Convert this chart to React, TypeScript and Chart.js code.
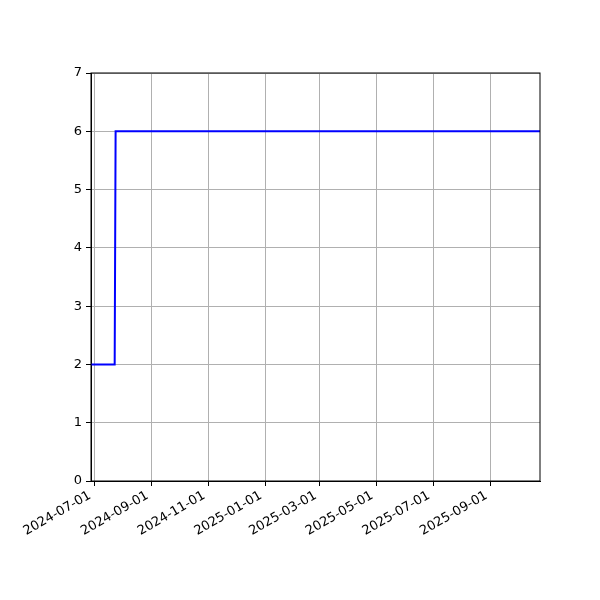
import { useEffect, useRef } from 'react'
import { Chart, registerables } from 'chart.js'

Chart.register(...registerables)

const DAY = 86400000
const dayOf = (iso: string) => Date.parse(iso + 'T00:00:00Z') / DAY

// step series: date -> value
const dates = ['2024-06-27', '2024-07-23', '2024-07-24', '2025-10-25']
const values = [2, 2, 6, 6]

const tickDates = [
  '2024-07-01',
  '2024-09-01',
  '2024-11-01',
  '2025-01-01',
  '2025-03-01',
  '2025-05-01',
  '2025-07-01',
  '2025-09-01',
]
const yTicks = [0, 1, 2, 3, 4, 5, 6, 7]

const X_MIN = dayOf('2024-06-27') + 0.5
const X_MAX = dayOf('2025-10-24')
const FONT = '13px "DejaVu Sans"'

const frame = {
  id: 'frame',
  afterDraw(chart: Chart) {
    const { ctx, chartArea: a } = chart
    ctx.save()
    ctx.strokeStyle = '#000'
    ctx.lineWidth = 1
    ctx.strokeRect(a.left, a.top, a.right - a.left, a.bottom - a.top)

    // rotated date labels, right/top anchored like matplotlib's autofmt_xdate
    const xs = chart.scales.x
    const ang = (30 * Math.PI) / 180
    const h = 13
    ctx.font = FONT
    ctx.fillStyle = '#000'
    ctx.textBaseline = 'bottom'
    ctx.textAlign = 'left'
    tickDates.forEach((d) => {
      const tx = xs.getPixelForValue(dayOf(d))
      const w = ctx.measureText(d).width
      const top = a.bottom + 8
      const bx = tx - w * Math.cos(ang) - 1
      const by = top + w * Math.sin(ang) + h * Math.cos(ang)
      ctx.save()
      ctx.translate(bx, by)
      ctx.rotate(-ang)
      ctx.fillText(d, 0, 0)
      ctx.restore()
    })
    ctx.restore()
  },
}

export default function App() {
  const canvasRef = useRef<HTMLCanvasElement | null>(null)

  useEffect(() => {
    if (!canvasRef.current) return undefined
    const font = { family: 'DejaVu Sans', size: 13 }
    const chart = new Chart(canvasRef.current, {
      type: 'line',
      data: {
        datasets: [
          {
            data: dates.map((d, i) => ({ x: dayOf(d), y: values[i] })),
            borderColor: '#0000ff',
            borderWidth: 2,
            pointRadius: 0,
            tension: 0,
          },
        ],
      },
      options: {
        animation: false,
        responsive: false,
        devicePixelRatio: 1,
        layout: { padding: { left: 0, top: 73, right: 60, bottom: 0 } },
        plugins: { legend: { display: false }, tooltip: { enabled: false } },
        scales: {
          x: {
            type: 'linear',
            min: X_MIN,
            max: X_MAX,
            afterBuildTicks: (scale) => {
              scale.ticks = tickDates.map((d) => ({ value: dayOf(d) }))
            },
            afterFit: (scale) => {
              scale.height = 119
            },
            ticks: { display: false },
            grid: { color: '#b0b0b0', lineWidth: 1, tickColor: '#000', tickLength: 5 },
            border: { color: '#000', width: 1 },
          },
          y: {
            type: 'linear',
            min: 0,
            max: 7,
            afterBuildTicks: (scale) => {
              scale.ticks = yTicks.map((v) => ({ value: v }))
            },
            afterFit: (scale) => {
              scale.width = 91
            },
            ticks: { color: '#000', font, padding: 4 },
            grid: { color: '#b0b0b0', lineWidth: 1, tickColor: '#000', tickLength: 5 },
            border: { color: '#000', width: 1 },
          },
        },
      },
      plugins: [frame],
    })
    return () => chart.destroy()
  }, [])

  return (
    <div style={{ position: 'absolute', left: 0, top: 0, width: 600, height: 600, background: '#fff' }}>
      <canvas ref={canvasRef} width={600} height={600} />
    </div>
  )
}
